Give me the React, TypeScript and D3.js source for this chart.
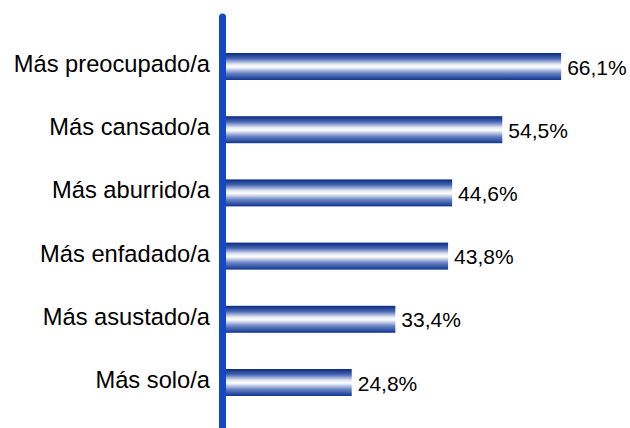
import React from 'react';
import * as d3 from 'd3';

const categories = ['Más preocupado/a', 'Más cansado/a', 'Más aburrido/a', 'Más enfadado/a', 'Más asustado/a', 'Más solo/a'];
const values = [66.1, 54.5, 44.6, 43.8, 33.4, 24.8];
const valueLabels = ['66,1%', '54,5%', '44,6%', '43,8%', '33,4%', '24,8%'];

const width = 630;
const height = 428;

const App = () => {
  const x = d3.scaleLinear().domain([0, 70]).range([226, 226 + 70 * 5.07]);
  const y = d3.scalePoint<string>().domain(categories).range([66.5, 382.5]);
  const barH = 27;

  return (
    <svg width={width} height={height} style={{ position: 'absolute', left: 0, top: 0, background: '#fff' }}>
      <defs>
        <linearGradient id="barGrad" x1="0" y1="0" x2="0" y2="1">
          <stop offset="0" stopColor="#082a82" />
          <stop offset="0.2" stopColor="#4463b0" />
          <stop offset="0.42" stopColor="#e4e9f5" />
          <stop offset="0.52" stopColor="#ffffff" />
          <stop offset="0.75" stopColor="#6a83c4" />
          <stop offset="1" stopColor="#0e3592" />
        </linearGradient>
      </defs>
      {categories.map((c, i) => {
        const cy = y(c) as number;
        return (
          <g key={c}>
            <rect x={x(0)} y={cy - barH / 2} width={x(values[i]) - x(0)} height={barH} fill="url(#barGrad)" />
            <text x={210} y={cy + 5.5} textAnchor="end" fontFamily="Liberation Sans, Arial, sans-serif" fontSize={23.7} fill="#000">{c}</text>
            <text x={x(values[i]) + 6} y={cy + 8} fontFamily="Liberation Sans, Arial, sans-serif" fontSize={21} fill="#000">{valueLabels[i]}</text>
          </g>
        );
      })}
      <line x1={222.5} x2={222.5} y1={17} y2={height + 5} stroke="#1448c4" strokeWidth={7} strokeLinecap="round" />
    </svg>
  );
};

export default App;
